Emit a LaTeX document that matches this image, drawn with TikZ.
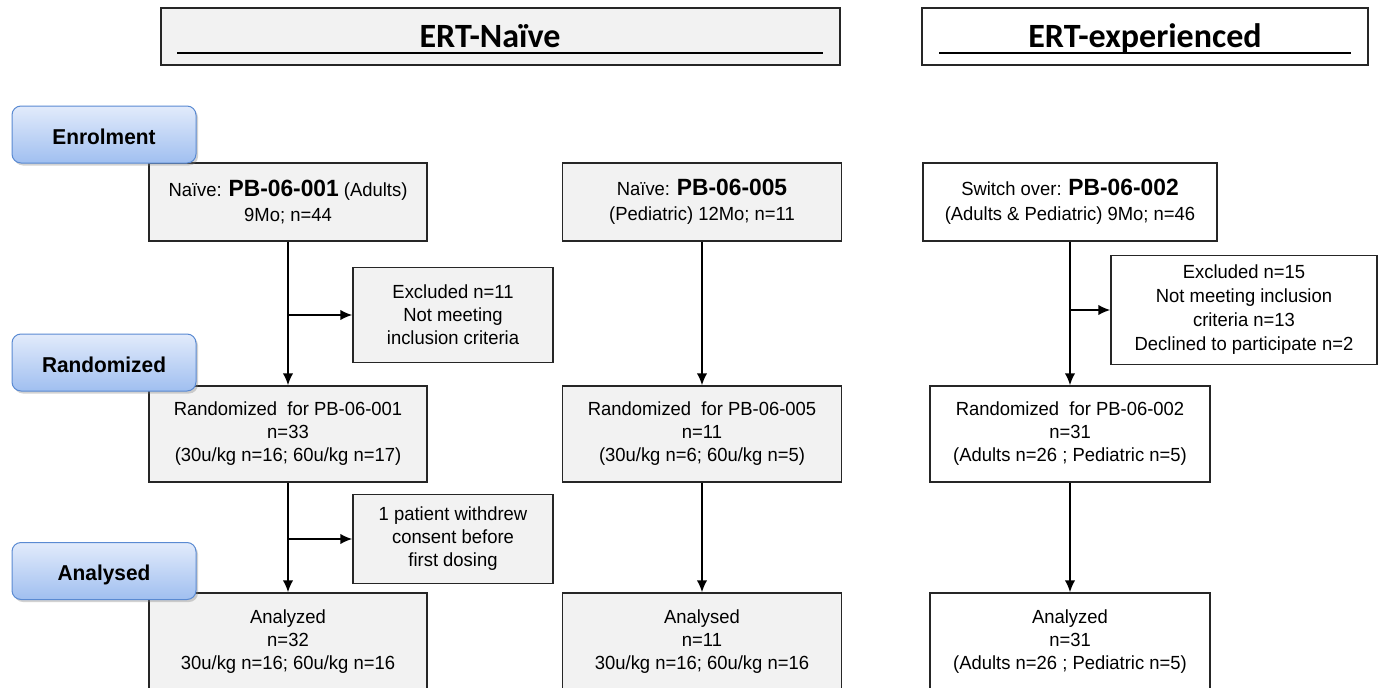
\documentclass[tikz,border=0pt]{standalone}
\usepackage{fontspec}
\setmainfont{Liberation Sans}[FakeStretch=0.97]
\newfontfamily\hdfont{Carlito}
\usetikzlibrary{arrows.meta,shadows}
\definecolor{boxgray}{HTML}{F2F2F2}
\definecolor{bordercol}{HTML}{262626}
\definecolor{stagetop}{HTML}{E2EBFB}
\definecolor{stagebot}{HTML}{A0BFF0}
\definecolor{stageborder}{HTML}{5A8AD2}
\tikzset{
  box/.style={draw=bordercol, line width=1.4pt, fill=boxgray, align=center, inner sep=2pt,
    font=\fontsize{19}{23}\selectfont},
  wbox/.style={box, fill=white},
  topbox/.style={font=\fontsize{19}{25.5}\selectfont},
  hdr/.style={draw=bordercol, line width=1.4pt, minimum height=57pt, inner sep=0pt},
  hdrtext/.style={font=\hdfont\bfseries\fontsize{34}{36}\selectfont, anchor=base, inner sep=0pt},
  stage/.style={rounded corners=9pt, draw=stageborder, line width=1pt, top color=stagetop,
    bottom color=stagebot, minimum width=184pt, minimum height=57pt,
    drop shadow={shadow xshift=2pt, shadow yshift=-2.5pt, opacity=0.35}},
  stagetext/.style={font=\bfseries\fontsize{21.5}{24}\selectfont, anchor=base, inner sep=0pt},
  conn/.style={line width=1.7pt, draw=black},
  arr/.style={conn, -{Latex[length=12pt,width=10.5pt]}},
  uline/.style={line width=1.4pt, draw=black}
}
\newcommand{\pid}[1]{{\bfseries\fontsize{23.5}{25}\selectfont #1}}
\begin{document}
\begin{tikzpicture}[x=1pt,y=-1pt]
\useasboundingbox (0,0) rectangle (1382,688);
\clip (0,0) rectangle (1382,688);
\fill[white] (0,0) rectangle (1382,688);
% headers
\node[hdr, fill=boxgray, minimum width=679pt] (h1) at (500.5,36.5) {};
\node[hdrtext] (t1) at (490,47) {ERT-Naïve};
\draw[uline] ([xshift=17pt,yshift=-16.5pt]h1.west) -- ([xshift=-18pt,yshift=-16.5pt]h1.east);
\node[hdr, fill=white, minimum width=446pt] (h2) at (1145,36.5) {};
\node[hdrtext] (t2) at (1145,47) {ERT-experienced};
\draw[uline] ([xshift=18pt,yshift=-16.5pt]h2.west) -- ([xshift=-18pt,yshift=-16.5pt]h2.east);
% column 1
\node[box, topbox, minimum width=278pt, minimum height=78pt] (A1) at (288,202) {Naïve: \pid{PB-06-001} (Adults)\\9Mo; n=44};
\node[box, minimum width=200pt, minimum height=95pt] (E1) at (453,315) {Excluded n=11\\Not meeting\\inclusion criteria};
\node[box, minimum width=278pt, minimum height=96pt] (R1) at (288,434) {Randomized\ \ for PB-06-001\\n=33\\(30u/kg n=16; 60u/kg n=17)};
\node[box, minimum width=200pt, minimum height=89pt] (W1) at (453,539) {1 patient withdrew\\consent before\\first dosing};
\node[box, minimum width=278pt, minimum height=97pt] (N1) at (288,641.5) {Analyzed\\n=32\\30u/kg n=16; 60u/kg n=16};
% column 2
\node[box, topbox, minimum width=279pt, minimum height=78pt] (A2) at (702,202) {Naïve: \pid{PB-06-005}\\(Pediatric) 12Mo; n=11};
\node[box, minimum width=279pt, minimum height=96pt] (R2) at (702,434) {Randomized\ \ for PB-06-005\\n=11\\(30u/kg n=6; 60u/kg n=5)};
\node[box, minimum width=279pt, minimum height=97pt] (N2) at (702,641.5) {Analysed\\n=11\\30u/kg n=16; 60u/kg n=16};
% column 3
\node[wbox, topbox, minimum width=294pt, minimum height=78pt] (A3) at (1070,202) {Switch over: \pid{PB-06-002}\\(Adults \& Pediatric) 9Mo; n=46};
\node[wbox, minimum width=266pt, minimum height=109pt, font=\fontsize{19}{24}\selectfont] (E3) at (1244,310) {Excluded n=15\\Not meeting inclusion\\criteria n=13\\Declined to participate n=2};
\node[wbox, minimum width=280pt, minimum height=96pt] (R3) at (1070,434) {Randomized\ \ for PB-06-002\\n=31\\(Adults n=26 ; Pediatric n=5)};
\node[wbox, minimum width=280pt, minimum height=97pt] (N3) at (1070,641.5) {Analyzed\\n=31\\(Adults n=26 ; Pediatric n=5)};
% connectors
\draw[arr] (A1.south) -- (R1.north);
\draw[arr] (E1.west -| A1.south) -- (E1.west);
\draw[arr] (R1.south) -- (N1.north);
\draw[arr] (W1.west -| R1.south) -- (W1.west);
\draw[arr] (A2.south) -- (R2.north);
\draw[arr] (R2.south) -- (N2.north);
\draw[arr] (A3.south) -- (R3.north);
\draw[arr] (E3.west -| A3.south) -- (E3.west);
\draw[arr] (R3.south) -- (N3.north);
% stage labels
\node[stage] (s1) at (104,134.5) {};
\node[stagetext] (s1t) at (104,144) {Enrolment};
\node[stage] (s2) at (104,362.5) {};
\node[stagetext] (s2t) at (104,372) {Randomized};
\node[stage] (s3) at (104,571) {};
\node[stagetext] (s3t) at (104,580.5) {Analysed};
\end{tikzpicture}
\end{document}
